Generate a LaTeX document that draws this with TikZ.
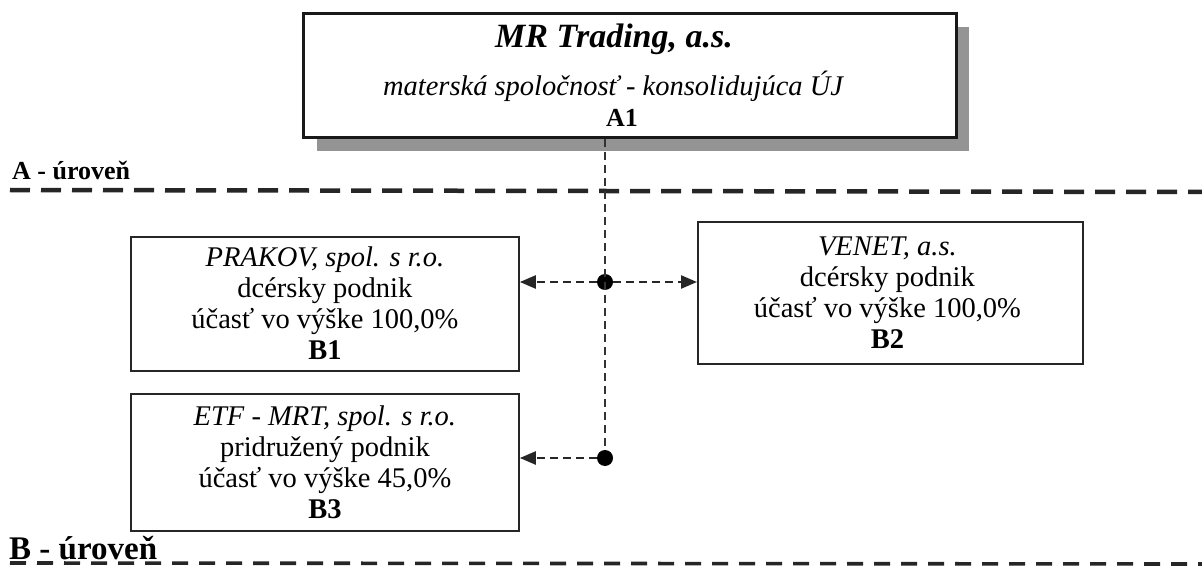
\documentclass[tikz,border=0pt]{standalone}
\usepackage{fontspec}
\setmainfont{Liberation Serif}
\usetikzlibrary{arrows.meta}
\begin{document}
\begin{tikzpicture}[x=1pt,y=-1pt,
  boxB/.style={draw=black!85, line width=1.8pt, fill=white, anchor=north west, inner sep=0pt, align=center},
  boxtext/.style={align=center, font=\fontsize{28.5}{31}\selectfont, inner sep=0pt},
  lvl/.style={line width=4.5pt, dash pattern=on 20pt off 11pt, black!85},
  vline/.style={line width=1.4pt, dash pattern=on 8pt off 5pt, black!80},
  arr/.style={line width=2.4pt, dash pattern=on 8pt off 5pt, black!85, -{Triangle[length=16pt,width=13pt]}},
  dotn/.style={circle, fill=black, inner sep=0pt, minimum size=16pt},
  lbl/.style={font=\bfseries, inner sep=0pt, anchor=base west}
]
\useasboundingbox (0,0) rectangle (1202,580);
\fill[white] (0,0) rectangle (1202,580);

% A1 box with shadow
\fill[black!42] (317,27) rectangle (969,151);
\node[draw=black!90, line width=2.8pt, fill=white, anchor=north west, minimum width=653pt, minimum height=124pt, inner sep=0pt] (A1) at (302,12) {};
\node[font=\fontsize{34}{38}\selectfont\bfseries\itshape, anchor=base, inner sep=0pt] (A1t) at (614,48) {MR Trading, a.s.};
\node[font=\fontsize{28.5}{30}\selectfont\itshape, anchor=base, inner sep=0pt] (A1s) at (613,96) {materská spoločnosť - konsolidujúca ÚJ};
\node[font=\fontsize{26}{30}\selectfont\bfseries, anchor=base, inner sep=0pt] (A1c) at (622,127) {A1};

% level lines
\draw[lvl] (10,190) -- (1202,192);
\node[lbl, font=\fontsize{26}{28}\selectfont\bfseries] (LA) at (12,180) {A - úroveň};
\draw[lvl, line width=3.6pt, dash pattern=on 16pt off 11pt] (10,563) -- (1202,564);
\node[lbl, font=\fontsize{33}{36}\selectfont\bfseries] (LB) at (9,559) {B - úroveň};

% B boxes
\node[boxB, minimum width=388pt, minimum height=134pt] (B1) at (130,236) {};
\node[boxtext] (B1t) at ([yshift=1pt]B1.center) {\textit{PRAKOV, spol. s r.o.}\\dcérsky podnik\\účasť vo výške 100,0\%\\\textbf{B1}};
\node[boxB, minimum width=385pt, minimum height=142pt] (B2) at (697,221) {};
\node[boxtext] (B2t) at ([xshift=-3pt]B2.center) {\textit{VENET, a.s.}\\dcérsky podnik\\účasť vo výške 100,0\%\\\textbf{B2}};
\node[boxB, minimum width=388pt, minimum height=137pt] (B3) at (130,393) {};
\node[boxtext] (B3t) at (B3.center) {\textit{ETF - MRT, spol. s r.o.}\\pridružený podnik\\účasť vo výške 45,0\%\\\textbf{B3}};

% dots
\node[dotn] (d1) at (605,282) {};
\node[dotn] (d2) at (605,458) {};

% connectors
\draw[vline] (A1.south -| d1) -- (d2);
\draw[arr] (d1) -- (d1 -| B1.east);
\draw[arr] (d1) -- (d1 -| B2.west);
\draw[arr] (d2) -- (d2 -| B3.east);
\end{tikzpicture}
\end{document}
